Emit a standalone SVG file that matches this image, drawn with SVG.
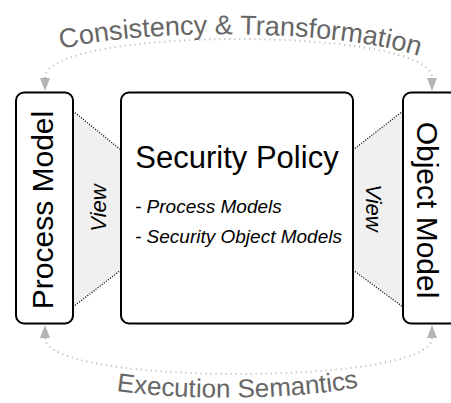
<svg xmlns="http://www.w3.org/2000/svg" width="451" height="403" viewBox="0 0 451 403">
<style>
.box{fill:#fff;stroke:#000;stroke-width:2}
.view{fill:#f0f0f0;stroke:none}
.vline{fill:none;stroke:#000;stroke-width:1.3;stroke-dasharray:1 1.6}
.arc{fill:none;stroke:#b3b3b3;stroke-width:2;stroke-dasharray:1 4}
.big{font-family:"Liberation Sans",Arial,sans-serif;font-size:30px;fill:#000}
.it{font-family:"Liberation Sans",Arial,sans-serif;font-style:italic;fill:#000}
.lbl{font-family:"Liberation Sans",Arial,sans-serif;fill:#666}
</style>
<defs>
<marker id="ah" markerUnits="userSpaceOnUse" markerWidth="14" markerHeight="12" refX="0" refY="5" orient="auto-start-reverse" viewBox="0 0 14 10">
<path d="M0,0 L13,5 L0,10 Z" fill="#b3b3b3"/>
</marker>
<path id="tp1" d="M55,51 C120,30 330,25 425,58"/>
<path id="tp2" d="M105,389 C170,401 300,401 370,385"/>
</defs>
<g id="views">
<polygon class="view" points="73,111 121,150 121,270 73,307"/>
<line class="vline" x1="73" y1="111" x2="121" y2="150"/>
<line class="vline" x1="73" y1="307" x2="121" y2="270"/>
<text class="it" font-size="22" transform="translate(106,208) rotate(-90)" text-anchor="middle">View</text>
<polygon class="view" points="353,150 403,111 403,307 353,270"/>
<line class="vline" x1="353" y1="150" x2="403" y2="111"/>
<line class="vline" x1="353" y1="270" x2="403" y2="307"/>
<text class="it" font-size="22" transform="translate(366,208) rotate(90)" text-anchor="middle">View</text>
</g>
<g id="process-model">
<rect class="box" x="16" y="92.5" width="57" height="231" rx="8"/>
<text class="big" transform="translate(53,210) rotate(-90)" text-anchor="middle">Process Model</text>
</g>
<g id="security-policy">
<rect class="box" x="121" y="92.5" width="232" height="231" rx="8"/>
<text class="big" x="237" y="168" text-anchor="middle" style="font-size:31px">Security Policy</text>
<text class="it" font-size="19" x="135" y="213">- Process Models</text>
<text class="it" font-size="19" x="135" y="243">- Security Object Models</text>
</g>
<g id="object-model">
<rect class="box" x="403" y="92.5" width="57" height="231" rx="8"/>
<text class="big" transform="translate(417,210) rotate(90)" text-anchor="middle">Object Model</text>
</g>
<g id="connectors">
<path class="arc" d="M45,78 C45,26 432,26 432,78" marker-start="url(#ah)" marker-end="url(#ah)"/>
<path class="arc" d="M45,338 C45,386 432,386 432,338" marker-start="url(#ah)" marker-end="url(#ah)"/>
<text class="lbl" font-size="27"><textPath href="#tp1" startOffset="50%" text-anchor="middle">Consistency &amp; Transformation</textPath></text>
<text class="lbl" font-size="26"><textPath href="#tp2" startOffset="50%" text-anchor="middle">Execution Semantics</textPath></text>
</g>
</svg>
